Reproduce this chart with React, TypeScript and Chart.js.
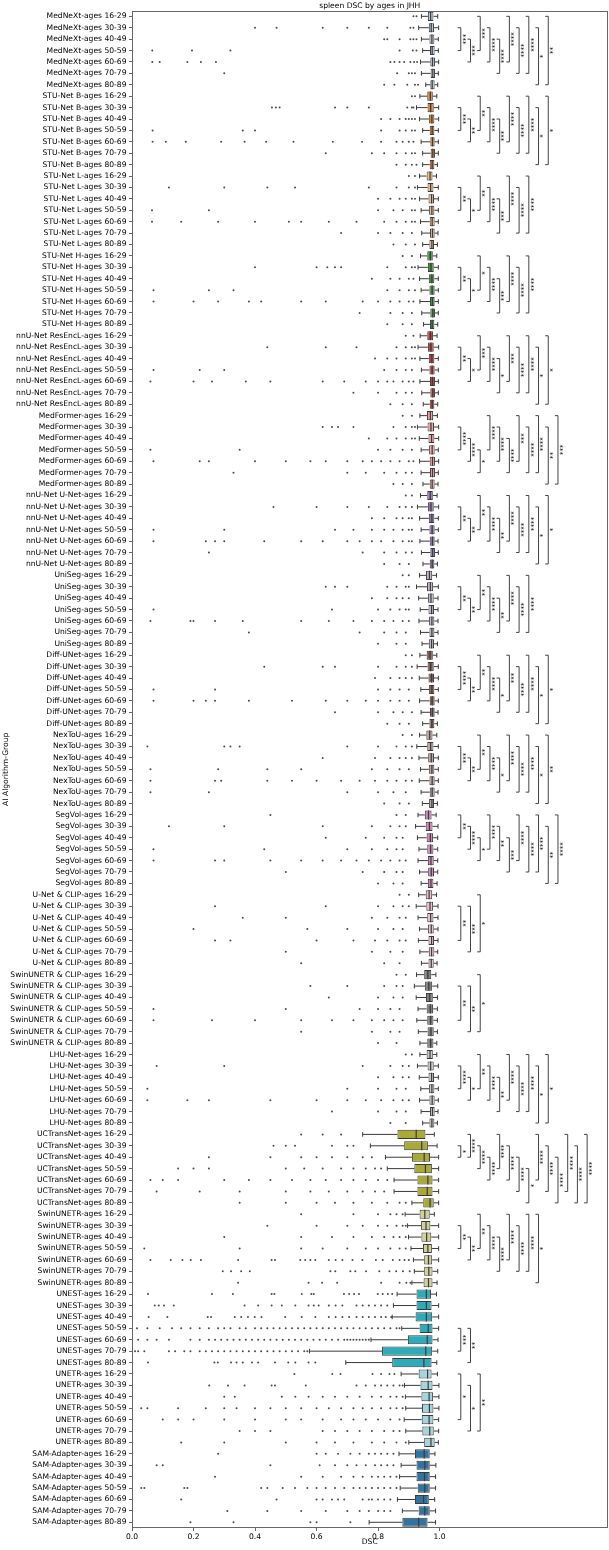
import React, { useEffect, useRef } from 'react';
import { Chart, registerables } from 'chart.js';

Chart.register(...registerables);

const TITLE = 'spleen DSC by ages in JHH';
const X_TITLE = 'DSC';
const Y_TITLE = 'AI Algorithm-Group';
const FONT = '"DejaVu Sans", sans-serif';
const FONT_SIZE = 7.6;

const MODELS = [
  'MedNeXt', 'STU-Net B', 'STU-Net L', 'STU-Net H', 'nnU-Net ResEncL', 'MedFormer',
  'nnU-Net U-Net', 'UniSeg', 'Diff-UNet', 'NexToU', 'SegVol', 'U-Net & CLIP',
  'SwinUNETR & CLIP', 'LHU-Net', 'UCTransNet', 'SwinUNETR', 'UNEST', 'UNETR', 'SAM-Adapter',
];
const AGES = ['16-29', '30-39', '40-49', '50-59', '60-69', '70-79', '80-89'];
const MODEL_COLORS = [
  '#b5c8e1', '#e1812c', '#eebb89', '#3a923a', '#c03d3e', '#f2a4a3',
  '#9372b2', '#c4b5d0', '#845b53', '#bea09a', '#d584bd', '#efbed3',
  '#7f7f7f', '#c7c7c7', '#a9aa35', '#d1d197', '#2eabb8', '#a7d4dc', '#3274a1',
];
const X_TICKS = [0, 0.2, 0.4, 0.6, 0.8, 1.0];
const X_MAX = 1.546;

const LABELS = MODELS.flatMap((m) => AGES.map((a) => `${m}-ages ${a}`));

const WHISKER_LOW = [
  0.941, 0.932, 0.941, 0.945, 0.938, 0.941, 0.955,
  0.936, 0.925, 0.935, 0.945, 0.940, 0.945, 0.945,
  0.935, 0.928, 0.935, 0.940, 0.938, 0.942, 0.945,
  0.938, 0.930, 0.935, 0.940, 0.936, 0.942, 0.948,
  0.937, 0.930, 0.936, 0.941, 0.936, 0.942, 0.947,
  0.936, 0.928, 0.934, 0.940, 0.935, 0.940, 0.946,
  0.938, 0.928, 0.935, 0.940, 0.936, 0.941, 0.946,
  0.935, 0.925, 0.932, 0.937, 0.933, 0.938, 0.943,
  0.936, 0.927, 0.934, 0.939, 0.935, 0.940, 0.945,
  0.935, 0.926, 0.933, 0.938, 0.934, 0.940, 0.944,
  0.930, 0.922, 0.928, 0.933, 0.930, 0.935, 0.940,
  0.932, 0.924, 0.930, 0.935, 0.931, 0.936, 0.941,
  0.925, 0.918, 0.924, 0.930, 0.926, 0.931, 0.936,
  0.936, 0.928, 0.934, 0.939, 0.935, 0.940, 0.945,
  0.750, 0.775, 0.824, 0.830, 0.852, 0.852, 0.910,
  0.888, 0.896, 0.899, 0.907, 0.915, 0.918, 0.910,
  0.862, 0.850, 0.846, 0.877, 0.777, 0.577, 0.695,
  0.875, 0.886, 0.889, 0.890, 0.885, 0.890, 0.900,
  0.868, 0.875, 0.870, 0.872, 0.863, 0.879, 0.771,
];
const Q1 = [
  0.962, 0.965, 0.967, 0.969, 0.970, 0.971, 0.970,
  0.960, 0.961, 0.965, 0.968, 0.970, 0.971, 0.968,
  0.958, 0.961, 0.964, 0.966, 0.968, 0.969, 0.967,
  0.960, 0.962, 0.965, 0.967, 0.969, 0.970, 0.969,
  0.960, 0.962, 0.965, 0.967, 0.969, 0.970, 0.968,
  0.959, 0.961, 0.964, 0.966, 0.968, 0.969, 0.968,
  0.960, 0.962, 0.965, 0.967, 0.968, 0.970, 0.968,
  0.956, 0.959, 0.962, 0.964, 0.966, 0.967, 0.965,
  0.958, 0.961, 0.964, 0.966, 0.968, 0.969, 0.967,
  0.957, 0.960, 0.963, 0.965, 0.967, 0.968, 0.966,
  0.952, 0.955, 0.958, 0.960, 0.962, 0.963, 0.962,
  0.955, 0.957, 0.960, 0.962, 0.964, 0.965, 0.964,
  0.950, 0.953, 0.956, 0.958, 0.960, 0.961, 0.960,
  0.958, 0.961, 0.964, 0.966, 0.967, 0.969, 0.967,
  0.863, 0.885, 0.910, 0.918, 0.928, 0.928, 0.947,
  0.935, 0.940, 0.941, 0.946, 0.950, 0.950, 0.948,
  0.925, 0.925, 0.922, 0.935, 0.897, 0.813, 0.846,
  0.932, 0.938, 0.941, 0.943, 0.942, 0.944, 0.950,
  0.920, 0.925, 0.925, 0.929, 0.920, 0.932, 0.879,
];
const MEDIAN = [
  0.971, 0.973, 0.975, 0.976, 0.977, 0.978, 0.976,
  0.970, 0.971, 0.975, 0.976, 0.977, 0.978, 0.976,
  0.969, 0.971, 0.974, 0.975, 0.976, 0.977, 0.975,
  0.970, 0.972, 0.975, 0.976, 0.977, 0.978, 0.976,
  0.970, 0.972, 0.975, 0.976, 0.977, 0.978, 0.976,
  0.970, 0.972, 0.974, 0.976, 0.977, 0.977, 0.976,
  0.970, 0.972, 0.975, 0.976, 0.977, 0.977, 0.976,
  0.967, 0.970, 0.972, 0.974, 0.975, 0.975, 0.974,
  0.969, 0.971, 0.974, 0.975, 0.976, 0.977, 0.975,
  0.968, 0.971, 0.973, 0.975, 0.976, 0.976, 0.975,
  0.964, 0.967, 0.970, 0.971, 0.972, 0.973, 0.972,
  0.966, 0.969, 0.971, 0.973, 0.974, 0.974, 0.973,
  0.962, 0.965, 0.968, 0.970, 0.971, 0.972, 0.971,
  0.969, 0.971, 0.974, 0.975, 0.976, 0.977, 0.975,
  0.924, 0.942, 0.950, 0.954, 0.962, 0.960, 0.969,
  0.952, 0.956, 0.958, 0.962, 0.964, 0.965, 0.964,
  0.957, 0.957, 0.957, 0.963, 0.960, 0.955, 0.949,
  0.961, 0.963, 0.966, 0.967, 0.966, 0.968, 0.972,
  0.950, 0.952, 0.951, 0.952, 0.948, 0.952, 0.932,
];
const Q3 = [
  0.980, 0.982, 0.983, 0.984, 0.985, 0.985, 0.984,
  0.978, 0.981, 0.983, 0.983, 0.984, 0.985, 0.983,
  0.977, 0.980, 0.982, 0.983, 0.984, 0.984, 0.982,
  0.978, 0.981, 0.983, 0.984, 0.984, 0.985, 0.983,
  0.979, 0.981, 0.983, 0.984, 0.985, 0.985, 0.983,
  0.979, 0.982, 0.983, 0.984, 0.985, 0.985, 0.984,
  0.978, 0.981, 0.983, 0.984, 0.984, 0.985, 0.983,
  0.976, 0.979, 0.981, 0.982, 0.983, 0.983, 0.982,
  0.978, 0.981, 0.982, 0.983, 0.984, 0.984, 0.983,
  0.977, 0.980, 0.982, 0.983, 0.984, 0.984, 0.982,
  0.974, 0.977, 0.979, 0.980, 0.981, 0.982, 0.980,
  0.976, 0.979, 0.980, 0.981, 0.982, 0.983, 0.981,
  0.973, 0.976, 0.978, 0.979, 0.980, 0.981, 0.980,
  0.978, 0.981, 0.982, 0.983, 0.984, 0.984, 0.983,
  0.954, 0.962, 0.969, 0.975, 0.977, 0.977, 0.981,
  0.968, 0.970, 0.973, 0.975, 0.976, 0.977, 0.977,
  0.972, 0.974, 0.976, 0.977, 0.977, 0.976, 0.974,
  0.974, 0.977, 0.979, 0.980, 0.980, 0.981, 0.984,
  0.968, 0.968, 0.968, 0.968, 0.965, 0.968, 0.961,
];
const WHISKER_HIGH = [
  0.994, 0.997, 0.996, 0.996, 0.997, 0.996, 0.994,
  0.991, 0.997, 0.997, 0.996, 0.996, 0.996, 0.993,
  0.990, 0.996, 0.996, 0.996, 0.996, 0.995, 0.993,
  0.991, 0.996, 0.996, 0.996, 0.996, 0.996, 0.994,
  0.992, 0.997, 0.996, 0.996, 0.996, 0.996, 0.994,
  0.993, 0.997, 0.997, 0.996, 0.997, 0.996, 0.995,
  0.992, 0.997, 0.996, 0.996, 0.995, 0.996, 0.993,
  0.990, 0.996, 0.995, 0.995, 0.995, 0.995, 0.993,
  0.991, 0.996, 0.996, 0.996, 0.996, 0.995, 0.993,
  0.991, 0.996, 0.996, 0.996, 0.996, 0.995, 0.993,
  0.989, 0.995, 0.994, 0.994, 0.994, 0.994, 0.992,
  0.990, 0.995, 0.995, 0.995, 0.995, 0.994, 0.992,
  0.988, 0.994, 0.993, 0.993, 0.993, 0.993, 0.991,
  0.991, 0.996, 0.996, 0.996, 0.996, 0.995, 0.993,
  0.983, 0.992, 0.997, 0.997, 0.997, 0.997, 0.997,
  0.983, 0.997, 0.997, 0.997, 0.997, 0.994, 0.992,
  0.990, 0.997, 0.997, 0.997, 0.995, 0.994, 0.991,
  0.993, 0.998, 0.998, 0.998, 0.997, 0.997, 0.996,
  0.985, 0.988, 0.987, 0.987, 0.984, 0.987, 0.987,
];
const OUTLIERS: number[][] = [
  // MedNeXt
  [0.915, 0.925],
  [0.40, 0.47, 0.62, 0.70, 0.77, 0.83, 0.905, 0.915],
  [0.82, 0.83, 0.87, 0.905, 0.915, 0.925],
  [0.066, 0.195, 0.32, 0.87, 0.913, 0.925],
  [0.066, 0.09, 0.18, 0.224, 0.273, 0.84, 0.853, 0.87, 0.885, 0.905, 0.917, 0.927],
  [0.30, 0.862, 0.90, 0.91, 0.92],
  [0.82, 0.853, 0.895, 0.92, 0.93],
  // STU-Net B
  [0.91, 0.92],
  [0.455, 0.468, 0.48, 0.66, 0.70, 0.77, 0.895, 0.91, 0.915],
  [0.81, 0.84, 0.87, 0.89, 0.90, 0.91, 0.92],
  [0.067, 0.36, 0.40, 0.81, 0.87, 0.89, 0.91, 0.92],
  [0.067, 0.11, 0.175, 0.29, 0.366, 0.436, 0.525, 0.653, 0.748, 0.81, 0.86, 0.88, 0.90, 0.915],
  [0.63, 0.78, 0.82, 0.86, 0.89, 0.91, 0.92],
  [0.86, 0.89, 0.91, 0.925],
  // STU-Net L
  [0.90, 0.92],
  [0.12, 0.30, 0.44, 0.53, 0.77, 0.86, 0.90, 0.92],
  [0.80, 0.84, 0.87, 0.89, 0.91, 0.92],
  [0.065, 0.25, 0.80, 0.85, 0.88, 0.91, 0.92],
  [0.065, 0.16, 0.28, 0.40, 0.51, 0.55, 0.64, 0.73, 0.82, 0.86, 0.89, 0.91, 0.92],
  [0.68, 0.80, 0.84, 0.88, 0.91],
  [0.85, 0.89, 0.92],
  // STU-Net H
  [0.88, 0.91],
  [0.40, 0.60, 0.635, 0.66, 0.68, 0.83, 0.89, 0.91, 0.92],
  [0.78, 0.84, 0.87, 0.90, 0.915],
  [0.07, 0.25, 0.33, 0.83, 0.87, 0.90, 0.92],
  [0.07, 0.20, 0.28, 0.38, 0.42, 0.55, 0.63, 0.75, 0.80, 0.84, 0.87, 0.90, 0.915],
  [0.74, 0.84, 0.88, 0.91],
  [0.83, 0.88, 0.91],
  // nnU-Net ResEncL
  [0.89, 0.915],
  [0.44, 0.63, 0.73, 0.86, 0.89, 0.91, 0.92],
  [0.79, 0.83, 0.86, 0.89, 0.91, 0.92],
  [0.07, 0.22, 0.30, 0.82, 0.86, 0.89, 0.91],
  [0.06, 0.20, 0.26, 0.37, 0.45, 0.62, 0.69, 0.76, 0.80, 0.83, 0.85, 0.88, 0.90, 0.915],
  [0.72, 0.80, 0.86, 0.89, 0.91],
  [0.84, 0.88, 0.91],
  // MedFormer
  [0.88, 0.91],
  [0.62, 0.65, 0.67, 0.72, 0.85, 0.89, 0.91, 0.92],
  [0.77, 0.83, 0.86, 0.89, 0.91, 0.92],
  [0.06, 0.35, 0.80, 0.84, 0.88, 0.91],
  [0.07, 0.22, 0.25, 0.40, 0.50, 0.58, 0.63, 0.70, 0.75, 0.78, 0.81, 0.84, 0.87, 0.90, 0.915],
  [0.33, 0.70, 0.76, 0.82, 0.86, 0.89, 0.91],
  [0.85, 0.88, 0.91],
  // nnU-Net U-Net
  [0.89, 0.91],
  [0.46, 0.60, 0.70, 0.77, 0.83, 0.87, 0.89, 0.91],
  [0.78, 0.82, 0.86, 0.88, 0.90, 0.91],
  [0.07, 0.30, 0.66, 0.72, 0.78, 0.82, 0.85, 0.88, 0.90, 0.91],
  [0.07, 0.24, 0.27, 0.30, 0.43, 0.55, 0.62, 0.70, 0.74, 0.78, 0.81, 0.85, 0.88, 0.90, 0.91],
  [0.25, 0.75, 0.82, 0.86, 0.89, 0.91],
  [0.82, 0.87, 0.90],
  // UniSeg
  [0.88, 0.90],
  [0.63, 0.66, 0.70, 0.83, 0.86, 0.89, 0.90],
  [0.78, 0.83, 0.86, 0.88, 0.90],
  [0.07, 0.65, 0.80, 0.84, 0.87, 0.89, 0.90],
  [0.06, 0.19, 0.20, 0.27, 0.36, 0.55, 0.64, 0.72, 0.78, 0.82, 0.85, 0.88, 0.90],
  [0.38, 0.74, 0.82, 0.86, 0.89],
  [0.80, 0.86, 0.89],
  // Diff-UNet
  [0.89, 0.91],
  [0.43, 0.62, 0.66, 0.80, 0.86, 0.89, 0.91],
  [0.79, 0.84, 0.87, 0.89, 0.91],
  [0.07, 0.27, 0.80, 0.84, 0.87, 0.90],
  [0.07, 0.20, 0.24, 0.27, 0.38, 0.52, 0.63, 0.70, 0.76, 0.80, 0.84, 0.87, 0.90],
  [0.66, 0.80, 0.85, 0.88, 0.91],
  [0.83, 0.87, 0.90],
  // NexToU
  [0.88, 0.91],
  [0.05, 0.30, 0.32, 0.35, 0.70, 0.80, 0.86, 0.89, 0.91],
  [0.62, 0.79, 0.84, 0.87, 0.89, 0.91],
  [0.06, 0.28, 0.44, 0.55, 0.78, 0.83, 0.87, 0.90],
  [0.06, 0.27, 0.29, 0.44, 0.52, 0.60, 0.68, 0.74, 0.79, 0.83, 0.86, 0.89, 0.91],
  [0.06, 0.25, 0.70, 0.80, 0.85, 0.89],
  [0.82, 0.87, 0.90],
  // SegVol
  [0.45, 0.86, 0.89],
  [0.12, 0.30, 0.62, 0.78, 0.84, 0.87, 0.89],
  [0.63, 0.76, 0.82, 0.86, 0.88],
  [0.07, 0.43, 0.70, 0.78, 0.83, 0.86, 0.88],
  [0.07, 0.27, 0.30, 0.45, 0.55, 0.62, 0.68, 0.73, 0.77, 0.81, 0.84, 0.87, 0.89],
  [0.50, 0.75, 0.82, 0.86, 0.88],
  [0.80, 0.85, 0.88],
  // U-Net & CLIP
  [0.87, 0.90],
  [0.27, 0.63, 0.80, 0.85, 0.88, 0.90],
  [0.36, 0.50, 0.78, 0.83, 0.87, 0.89],
  [0.20, 0.57, 0.70, 0.80, 0.85, 0.88],
  [0.27, 0.32, 0.60, 0.72, 0.79, 0.83, 0.87, 0.89],
  [0.50, 0.78, 0.84, 0.88],
  [0.55, 0.82, 0.87],
  // SwinUNETR & CLIP
  [0.86, 0.89],
  [0.58, 0.70, 0.82, 0.86, 0.88],
  [0.64, 0.80, 0.85, 0.88],
  [0.07, 0.50, 0.74, 0.80, 0.84, 0.87],
  [0.07, 0.26, 0.40, 0.55, 0.65, 0.72, 0.78, 0.82, 0.85, 0.88],
  [0.55, 0.78, 0.84, 0.87],
  [0.80, 0.86],
  // LHU-Net
  [0.89, 0.91],
  [0.08, 0.30, 0.75, 0.84, 0.88, 0.90],
  [0.80, 0.85, 0.88, 0.90],
  [0.05, 0.70, 0.80, 0.86, 0.89],
  [0.05, 0.18, 0.25, 0.45, 0.60, 0.70, 0.76, 0.81, 0.85, 0.88, 0.90],
  [0.65, 0.80, 0.86, 0.89],
  [0.84, 0.89],
  // UCTransNet
  [0.55, 0.62, 0.68],
  [0.46, 0.50, 0.53, 0.65, 0.70, 0.72],
  [0.25, 0.45, 0.55, 0.60, 0.65, 0.70, 0.75, 0.78],
  [0.15, 0.20, 0.25, 0.50, 0.56, 0.62, 0.68, 0.72, 0.76, 0.79, 0.81],
  [0.06, 0.10, 0.15, 0.30, 0.38, 0.45, 0.52, 0.58, 0.63, 0.68, 0.72, 0.76, 0.80, 0.83],
  [0.08, 0.22, 0.35, 0.50, 0.58, 0.64, 0.70, 0.75, 0.79, 0.82],
  [0.35, 0.50, 0.60, 0.66, 0.72, 0.78, 0.83, 0.87, 0.89],
  // SwinUNETR
  [0.55, 0.72, 0.80, 0.84, 0.86, 0.88],
  [0.44, 0.60, 0.70, 0.75, 0.80, 0.83, 0.86, 0.88, 0.89],
  [0.30, 0.55, 0.65, 0.72, 0.78, 0.82, 0.85, 0.87, 0.89],
  [0.04, 0.35, 0.55, 0.62, 0.70, 0.76, 0.80, 0.84, 0.87, 0.89],
  [0.06, 0.126, 0.164, 0.191, 0.224, 0.345, 0.454, 0.465, 0.547, 0.563, 0.58, 0.596, 0.64, 0.662, 0.684, 0.717, 0.749, 0.793, 0.815, 0.848, 0.87, 0.886, 0.90],
  [0.295, 0.322, 0.355, 0.383, 0.645, 0.661, 0.71, 0.726, 0.761, 0.804, 0.837, 0.859, 0.881, 0.903],
  [0.345, 0.574, 0.618, 0.667, 0.81, 0.87, 0.892, 0.905],
  // UNEST
  [0.052, 0.26, 0.328, 0.454, 0.463, 0.552, 0.583, 0.591, 0.689, 0.706, 0.722, 0.738, 0.799, 0.815, 0.832, 0.846],
  [0.074, 0.087, 0.104, 0.136, 0.366, 0.41, 0.454, 0.487, 0.531, 0.574, 0.591, 0.607, 0.64, 0.662, 0.684, 0.73, 0.75, 0.77, 0.79, 0.81, 0.83],
  [0.054, 0.115, 0.246, 0.257, 0.334, 0.355, 0.377, 0.399, 0.421, 0.498, 0.552, 0.596, 0.64, 0.662, 0.684, 0.706, 0.73, 0.75, 0.77, 0.79, 0.81, 0.825, 0.843],
  [0.016, 0.05, 0.09, 0.13, 0.16, 0.19, 0.22, 0.25, 0.28, 0.30, 0.32, 0.35, 0.37, 0.40, 0.42, 0.44, 0.46, 0.48, 0.50, 0.52, 0.54, 0.56, 0.58, 0.60, 0.62, 0.64, 0.66, 0.68, 0.70, 0.72, 0.74, 0.76, 0.78, 0.80, 0.82, 0.84, 0.86, 0.87],
  [0.0, 0.02, 0.05, 0.08, 0.12, 0.19, 0.22, 0.25, 0.27, 0.29, 0.31, 0.33, 0.35, 0.37, 0.39, 0.41, 0.43, 0.45, 0.47, 0.49, 0.51, 0.53, 0.55, 0.57, 0.59, 0.61, 0.63, 0.65, 0.67, 0.69, 0.70, 0.71, 0.72, 0.73, 0.74, 0.75, 0.76, 0.77],
  [0.01, 0.02, 0.04, 0.12, 0.14, 0.17, 0.19, 0.22, 0.24, 0.26, 0.28, 0.30, 0.32, 0.34, 0.36, 0.38, 0.40, 0.42, 0.44, 0.46, 0.48, 0.50, 0.52, 0.54, 0.56, 0.57],
  [0.052, 0.268, 0.279, 0.322, 0.34, 0.36, 0.39, 0.41, 0.465, 0.508, 0.531, 0.574, 0.596],
  // UNETR
  [0.528, 0.651, 0.678, 0.782, 0.81, 0.837, 0.853],
  [0.251, 0.312, 0.366, 0.454, 0.465, 0.565, 0.73, 0.76, 0.79, 0.81, 0.83, 0.85, 0.87, 0.88],
  [0.30, 0.334, 0.487, 0.531, 0.574, 0.62, 0.66, 0.70, 0.74, 0.78, 0.81, 0.84, 0.86, 0.88],
  [0.03, 0.05, 0.15, 0.24, 0.30, 0.34, 0.40, 0.45, 0.50, 0.55, 0.60, 0.64, 0.68, 0.72, 0.75, 0.78, 0.81, 0.84, 0.86, 0.88],
  [0.10, 0.15, 0.20, 0.30, 0.40, 0.50, 0.55, 0.62, 0.68, 0.72, 0.76, 0.80, 0.84, 0.87],
  [0.35, 0.40, 0.45, 0.62, 0.66, 0.70, 0.74, 0.78, 0.82, 0.85, 0.87],
  [0.16, 0.30, 0.50, 0.60, 0.66, 0.72, 0.78, 0.82, 0.86, 0.89],
  // SAM-Adapter
  [0.28, 0.60, 0.63, 0.67, 0.71, 0.74, 0.77, 0.79, 0.81, 0.83, 0.85],
  [0.08, 0.10, 0.45, 0.61, 0.66, 0.70, 0.73, 0.76, 0.79, 0.81, 0.83, 0.85],
  [0.27, 0.55, 0.62, 0.68, 0.72, 0.75, 0.78, 0.80, 0.82, 0.84, 0.86],
  [0.03, 0.04, 0.17, 0.18, 0.42, 0.44, 0.49, 0.53, 0.57, 0.60, 0.63, 0.66, 0.69, 0.72, 0.74, 0.76, 0.78, 0.80, 0.82, 0.84, 0.86],
  [0.16, 0.47, 0.60, 0.62, 0.65, 0.67, 0.69, 0.75, 0.77, 0.78, 0.80, 0.82, 0.84],
  [0.31, 0.44, 0.55, 0.63, 0.70, 0.74, 0.77, 0.80, 0.82, 0.84],
  [0.19, 0.33, 0.58, 0.60, 0.71],
];

// significance brackets per model group: [ageIndexFrom, ageIndexTo, stars]; stacked left to right
const STD10: [number, number][] = [[1, 3], [2, 4], [0, 3], [1, 4], [2, 5], [0, 4], [1, 5], [0, 5], [1, 6], [0, 6]];
const withStars = (pairs: [number, number][], stars: string[]): [number, number, string][] =>
  stars.map((s, i) => [pairs[i][0], pairs[i][1], s]);
const BRACKETS: [number, number, string][][] = [
  withStars(STD10, ['***', '***', '***', '****', '****', '****', '****', '****', '*', '**']),
  withStars(STD10, ['***', '**', '**', '****', '***', '****', '****', '****', '*', '*']),
  withStars(STD10, ['**', '*', '**', '****', '***', '****', '****', '****']),
  withStars(STD10, ['**', '*', '*', '****', '***', '****', '****', '****']),
  withStars(STD10, ['**', '*', '***', '****', '*', '***', '****', '****', '*', '*']),
  withStars([[1, 3], [2, 4], [3, 5], [0, 3], [1, 4], [2, 5], [0, 4], [1, 5], [0, 5], [1, 6], [0, 6]],
    ['****', '****', '*', '****', '****', '****', '***', '****', '****', '**', '***']),
  withStars(STD10, ['**', '**', '**', '****', '**', '****', '****', '****', '*', '*']),
  withStars(STD10, ['**', '**', '**', '****', '**', '****', '****', '****']),
  withStars(STD10, ['****', '**', '**', '****', '*', '***', '****', '****', '*', '*']),
  withStars(STD10, ['***', '**', '**', '****', '*', '****', '****', '****', '*', '**']),
  withStars([[0, 2], [1, 3], [2, 4], [0, 3], [1, 4], [2, 5], [0, 4], [1, 5], [0, 5], [1, 6], [0, 6]],
    ['**', '****', '*', '****', '**', '***', '****', '****', '****', '**', '****']),
  withStars([[1, 4], [1, 5], [0, 5]], ['**', '***', '*']),
  withStars([[1, 4], [1, 5], [0, 5]], ['**', '**', '*']),
  withStars(STD10, ['****', '*', '**', '****', '**', '****', '****', '****', '*', '*']),
  withStars([[1, 2], [0, 2], [1, 3], [2, 4], [0, 3], [1, 4], [2, 5], [3, 6], [0, 4], [1, 5], [2, 6], [0, 5], [1, 6], [0, 6]],
    ['*', '****', '****', '****', '****', '****', '****', '*', '****', '****', '****', '****', '****', '****']),
  withStars([[1, 3], [2, 4], [0, 3], [1, 4], [2, 5], [0, 4], [1, 5], [0, 5], [0, 6]],
    ['**', '**', '**', '****', '****', '****', '****', '****', '*']),
  withStars([[3, 5], [3, 6]], ['***', '**']),
  withStars([[0, 4], [1, 5], [0, 5]], ['*', '*', '**']),
  [],
];
const BR_X0 = 1.069;
const BR_STEP = 0.0316;
const BR_TICK = 0.01;

const LINE_COLOR = '#3a3a3a';
const SPINE_COLOR = '#666666';

const boxExtras = {
  id: 'boxExtras',
  afterDatasetsDraw(chart: any) {
    const { ctx } = chart;
    const xs = chart.scales.x;
    const ys = chart.scales.y;
    const step = ys.getPixelForValue(1) - ys.getPixelForValue(0);
    const h = Math.abs(step) * 0.8;
    ctx.save();
    ctx.strokeStyle = LINE_COLOR;
    for (let i = 0; i < LABELS.length; i++) {
      const y = ys.getPixelForValue(i);
      const xl = xs.getPixelForValue(WHISKER_LOW[i]);
      const x1 = xs.getPixelForValue(Q1[i]);
      const x3 = xs.getPixelForValue(Q3[i]);
      const xh = xs.getPixelForValue(WHISKER_HIGH[i]);
      const xm = xs.getPixelForValue(MEDIAN[i]);
      ctx.lineWidth = 1;
      ctx.beginPath();
      ctx.moveTo(xl, y); ctx.lineTo(x1, y);
      ctx.moveTo(x3, y); ctx.lineTo(xh, y);
      ctx.moveTo(xl, y - h / 4); ctx.lineTo(xl, y + h / 4);
      ctx.moveTo(xh, y - h / 4); ctx.lineTo(xh, y + h / 4);
      ctx.stroke();
      ctx.lineWidth = 1.2;
      ctx.beginPath();
      ctx.moveTo(xm, y - h / 2); ctx.lineTo(xm, y + h / 2);
      ctx.stroke();
    }
    ctx.restore();
  },
};

const bracketPlugin = {
  id: 'sigBrackets',
  afterDatasetsDraw(chart: any) {
    const { ctx } = chart;
    const xs = chart.scales.x;
    const ys = chart.scales.y;
    ctx.save();
    ctx.strokeStyle = '#444444';
    ctx.lineWidth = 1;
    ctx.fillStyle = '#000000';
    ctx.font = `7px ${FONT}`;
    BRACKETS.forEach((pairs, g) => {
      pairs.forEach(([a, b, label], level) => {
        const xv = BR_X0 + level * BR_STEP;
        const xp = xs.getPixelForValue(xv);
        const xt = xs.getPixelForValue(xv - BR_TICK);
        const y1 = ys.getPixelForValue(g * AGES.length + a);
        const y2 = ys.getPixelForValue(g * AGES.length + b);
        ctx.beginPath();
        ctx.moveTo(xt, y1);
        ctx.lineTo(xp, y1);
        ctx.lineTo(xp, y2);
        ctx.lineTo(xt, y2);
        ctx.stroke();
        ctx.save();
        ctx.translate(xp + 1.5, (y1 + y2) / 2);
        ctx.rotate(-Math.PI / 2);
        ctx.textAlign = 'center';
        ctx.textBaseline = 'top';
        ctx.fillText(label, 0, 0);
        ctx.restore();
      });
    });
    ctx.restore();
  },
};

const spines = {
  id: 'spines',
  afterDraw(chart: any) {
    const { ctx, chartArea: a } = chart;
    ctx.save();
    ctx.strokeStyle = SPINE_COLOR;
    ctx.lineWidth = 1;
    ctx.strokeRect(Math.round(a.left) + 0.5, Math.round(a.top) + 0.5, Math.round(a.right - a.left) - 1, Math.round(a.bottom - a.top) - 1);
    ctx.restore();
  },
};

export default function App() {
  const ref = useRef<HTMLCanvasElement | null>(null);
  useEffect(() => {
    document.body.style.margin = '0';
    const canvas = ref.current;
    if (!canvas) return;
    const barColors = LABELS.map((_, i) => MODEL_COLORS[Math.floor(i / AGES.length)]);
    const outlierPoints = OUTLIERS.flatMap((arr, i) => arr.map((v) => ({ x: v, y: LABELS[i] })));
    const chart = new Chart(canvas, {
      type: 'bar',
      data: {
        labels: LABELS,
        datasets: [
          {
            type: 'scatter',
            data: outlierPoints as any,
            pointRadius: 1,
            pointHoverRadius: 1,
            pointBackgroundColor: '#4a4a4a',
            pointBorderWidth: 0,
            showLine: false,
            order: 2,
          } as any,
          {
            type: 'bar',
            data: Q1.map((q, i) => [q, Q3[i]]) as any,
            backgroundColor: barColors,
            borderColor: LINE_COLOR,
            borderWidth: 1,
            borderSkipped: false,
            categoryPercentage: 0.8,
            barPercentage: 1.0,
            order: 1,
          } as any,
        ],
      },
      options: {
        indexAxis: 'y',
        responsive: false,
        animation: false,
        events: [],
        layout: { padding: { left: 0, right: 1.5, top: 0, bottom: 0 } },
        plugins: {
          legend: { display: false },
          tooltip: { enabled: false },
          title: {
            display: true,
            fullSize: false,
            text: TITLE,
            color: '#000',
            font: { family: FONT, size: FONT_SIZE, weight: 'normal' as any, lineHeight: 1.2 },
            padding: { top: 1.5, bottom: 0 },
          },
        },
        scales: {
          x: {
            type: 'linear',
            position: 'bottom',
            min: 0,
            max: X_MAX,
            offset: false,
            afterBuildTicks: (s: any) => { s.ticks = X_TICKS.map((v) => ({ value: v })); },
            afterFit: (s: any) => { s.height = 22; },
            grid: { display: true, drawOnChartArea: false, drawTicks: true, tickLength: 3, color: SPINE_COLOR, offset: false },
            border: { display: false },
            ticks: {
              color: '#000',
              font: { family: FONT, size: FONT_SIZE },
              padding: 1,
              maxRotation: 0,
              autoSkip: false,
              callback: (v: any) => Number(v).toFixed(1),
            },
            title: { display: true, text: X_TITLE, color: '#000', font: { family: FONT, size: FONT_SIZE, lineHeight: 1.2 }, padding: { top: 0, bottom: 3 } },
          },
          y: {
            type: 'category',
            position: 'left',
            labels: LABELS,
            offset: true,
            afterFit: (s: any) => { s.width = 132; },
            grid: { display: true, drawOnChartArea: false, drawTicks: true, tickLength: 3, color: SPINE_COLOR, offset: false },
            border: { display: false },
            ticks: {
              color: '#000',
              font: { family: FONT, size: FONT_SIZE },
              padding: 2.5,
              autoSkip: false,
            },
            title: { display: true, text: Y_TITLE, color: '#000', font: { family: FONT, size: FONT_SIZE }, padding: { top: 1, bottom: 0 } },
          },
        },
      } as any,
      plugins: [boxExtras, bracketPlugin, spines],
    });
    return () => chart.destroy();
  }, []);
  return <canvas ref={ref} width={609} height={1550} style={{ display: 'block' }} />;
}
